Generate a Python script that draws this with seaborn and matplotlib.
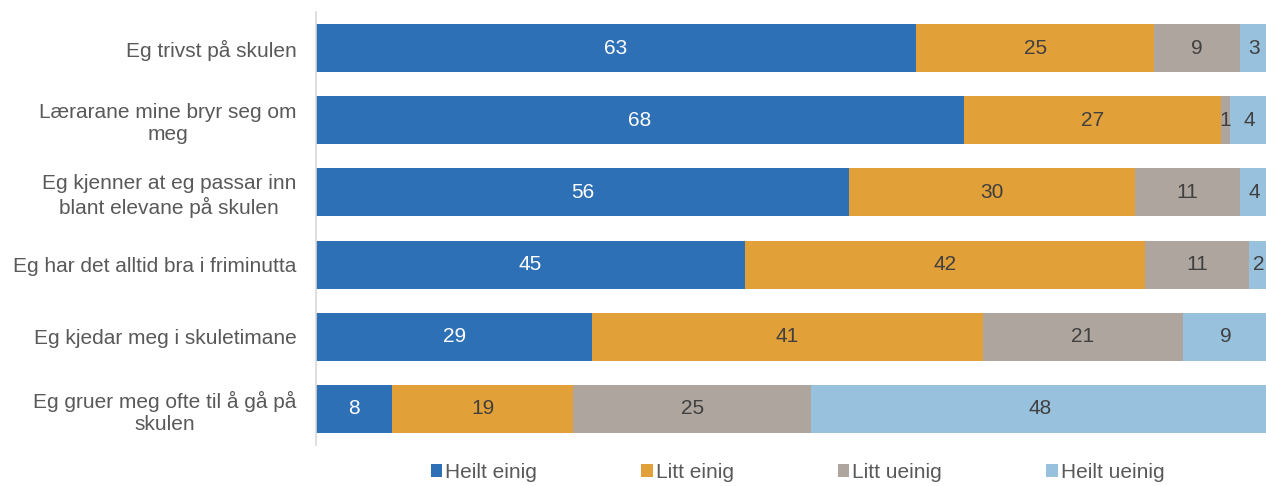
import matplotlib
matplotlib.use("Agg")
import matplotlib.pyplot as plt
import seaborn as sns
import numpy as np
from matplotlib.patches import Patch

categories = [
    "Eg trivst på skulen",
    "Lærarane mine bryr seg om\nmeg",
    "Eg kjenner at eg passar inn\nblant elevane på skulen",
    "Eg har det alltid bra i friminutta",
    "Eg kjedar meg i skuletimane",
    "Eg gruer meg ofte til å gå på\nskulen",
]
series_names = ["Heilt einig", "Litt einig", "Litt ueinig", "Heilt ueinig"]
heilt_einig = [63, 68, 56, 45, 29, 8]
litt_einig = [25, 27, 30, 42, 41, 19]
litt_ueinig = [9, 1, 11, 11, 21, 25]
heilt_ueinig = [3, 4, 4, 2, 9, 48]
series_values = [heilt_einig, litt_einig, litt_ueinig, heilt_ueinig]

colors = ["#2E70B6", "#E1A038", "#ADA59E", "#98C1DD"]
text_colors = ["white", "#404040", "#404040", "#404040"]

sns.set_style("white")
plt.rcParams["font.family"] = ["Liberation Sans", "DejaVu Sans"]

fig = plt.figure(figsize=(12.66, 4.86), dpi=100)
ax = fig.add_axes([316 / 1266, 1 - 445 / 486, 1 - 316 / 1266 + 0.002, (445 - 12) / 486])

left = np.zeros(len(categories))
for name, vals, col, tcol in zip(series_names, series_values, colors, text_colors):
    sns.barplot(x=vals, y=categories, left=left, color=col, orient="h",
                width=0.665, ax=ax, saturation=1, linewidth=0)
    cont = ax.containers[-1]
    ax.bar_label(cont, labels=[str(v) for v in vals], label_type="center",
                 color=tcol, fontsize=15)
    left = left + np.array(vals)

ax.set_xlim(0, 100)
ax.set_ylim(5.5, -0.5)
ax.set_xticks([])
ax.set_xlabel("")
ax.set_ylabel("")
for s in ["top", "right", "bottom"]:
    ax.spines[s].set_visible(False)
ax.spines["left"].set_color("#D9D9D9")
ax.spines["left"].set_linewidth(1.2)
ax.tick_params(axis="y", length=0, pad=14, labelsize=15, labelcolor="#595959")
for t in ax.get_yticklabels():
    t.set_multialignment("center")
    t.set_linespacing(1.2)

handles = [Patch(facecolor=c, edgecolor="none") for c in colors]
fig.legend(handles, series_names, loc="center", bbox_to_anchor=(0.63, 0.028),
           ncol=4, frameon=False, fontsize=15, handlelength=0.55, handleheight=0.55,
           handletextpad=0.15, columnspacing=5.0, labelcolor="#595959",
           borderpad=0.1)

fig.savefig("out.png", dpi=100)
